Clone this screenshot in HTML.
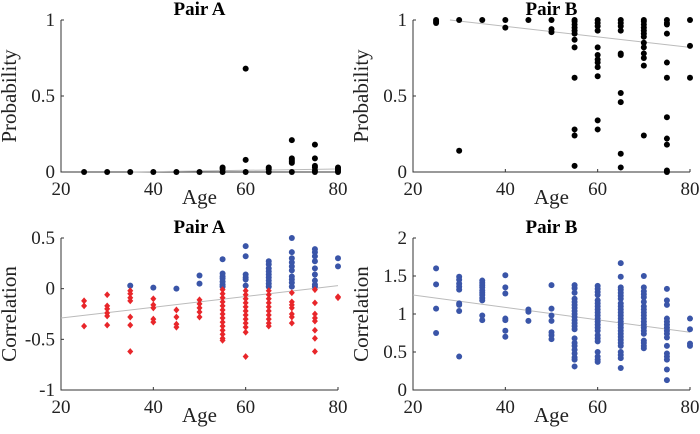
<!DOCTYPE html>
<html><head><meta charset="utf-8"><style>
html,body{margin:0;padding:0;background:#fff;}
svg{display:block;font-family:"Liberation Serif",serif;}
</style></head><body>
<svg id="fig" width="700" height="434" viewBox="0 0 700 434" xmlns="http://www.w3.org/2000/svg"></svg>
<script>
// ---- data ----
const ages = [25,30,35,40,45,50,55,60,65,70,75,80];
const xTicks = [20,40,60,80];

const probA = [[0],[0],[0],[0],[0],[0],[0,0.03,0.02],[0,0.68,0.08],[0,0.02,0.03],[0,0.21,0.09,0.08,0.07,0.06],[0,0.18,0.09,0.04,0.03,0.01],[0,0.03,0.02,0.01]];
const probB = [[1,0.98,0.99],[1,0.14],[1],[1,0.95],[1],[1,0.94,0.92],[1,0.99,0.97,0.95,0.93,0.91,0.87,0.82,0.62,0.28,0.24,0.04],[1,0.98,0.96,0.93,0.82,0.77,0.74,0.72,0.69,0.63,0.34,0.28],[1,0.98,0.96,0.93,0.78,0.77,0.52,0.46,0.12,0.03],[1,0.99,0.97,0.95,0.93,0.91,0.89,0.85,0.82,0.78,0.75,0.7,0.24],[1,0.98,0.97,0.91,0.72,0.62,0.36,0.22,0.18,0.01,0],[1,0.83,0.62]];
const corrAPos = [[],[],[0.03],[0.01],[0],[0.13,0.05],[0.29,0.15,0.12,0.1,0.07,0.04,0.02],[0.42,0.32,0.14,0.11,0.09,0.03],[0.27,0.24,0.2,0.17,0.14,0.11,0.08,0.05,0.02],[0.5,0.36,0.3,0.26,0.22,0.18,0.12,0.09,0.06,0.02],[0.39,0.36,0.32,0.27,0.2,0.14,0.08,0.04,0.02],[0.3,0.22]];
const corrANeg = [[-0.12,-0.17,-0.37],[-0.06,-0.17,-0.2,-0.24,-0.27,-0.36],[-0.02,-0.05,-0.09,-0.12,-0.28,-0.36,-0.62],[-0.1,-0.16,-0.19,-0.3,-0.33],[-0.21,-0.28,-0.35,-0.38],[-0.11,-0.15,-0.19,-0.23,-0.28],[-0.01,-0.05,-0.09,-0.13,-0.17,-0.21,-0.25,-0.29,-0.33,-0.37,-0.41,-0.45,-0.49,-0.51],[-0.02,-0.06,-0.1,-0.14,-0.18,-0.22,-0.26,-0.3,-0.34,-0.38,-0.43,-0.67],[-0.02,-0.06,-0.1,-0.14,-0.18,-0.22,-0.26,-0.3,-0.34,-0.37],[-0.04,-0.13,-0.16,-0.19,-0.25,-0.28,-0.34],[-0.01,-0.14,-0.25,-0.29,-0.32,-0.41,-0.49,-0.62],[-0.08,-0.09]];
const corrB = [[1.6,1.39,1.07,0.75],[1.49,1.45,1.4,1.36,1.32,1.14,1.12,1.04,0.44],[1.44,1.41,1.38,1.35,1.31,1.28,1.25,1.21,1.18,0.98,0.92],[1.51,1.35,1.27,0.94,0.92,0.78,0.7],[1.06,1.03,0.91],[1.38,1.07,0.98,0.91,0.76,0.72,0.67],[1.38,1.34,1.28,1.2,1.16,1.12,1.08,1.04,1,0.96,0.92,0.88,0.84,0.8,0.68,0.62,0.58,0.53,0.48,0.43,0.4,0.31],[1.37,1.33,1.29,1.25,1.18,1.14,1.1,1.06,1.02,0.98,0.94,0.9,0.86,0.82,0.78,0.72,0.68,0.64,0.5,0.44,0.4,0.37],[1.67,1.49,1.35,1.32,1.28,1.24,1.2,1.14,1.1,1.06,1.02,0.98,0.94,0.9,0.86,0.82,0.78,0.74,0.7,0.66,0.62,0.58,0.5,0.46,0.42,0.29],[1.5,1.35,1.3,1.26,1.22,1.16,1.1,1.06,1.02,0.98,0.94,0.9,0.86,0.82,0.78,0.74,0.65,0.62,0.58,0.55],[1.33,1.18,1.12,0.94,0.9,0.86,0.82,0.78,0.74,0.69,0.58,0.48,0.44,0.4,0.27,0.13],[0.94,0.8,0.61,0.58]];

const yTicksProb = [0,0.5,1];
const yTicksProbLbl = ["0","0.5","1"];
const yTicksCorrA = [-1,-0.5,0,0.5];
const yTicksCorrALbl = ["-1","-0.5","0","0.5"];
const yTicksCorrB = [0,0.5,1,1.5,2];
const yTicksCorrBLbl = ["0","0.5","1","1.5","2"];

const trendA1 = [[35,0],[80,0.02]];
const trendB1 = [[28,1.0],[80,0.82]];
const trendA2 = [[20,-0.29],[80,0.03]];
const trendB2 = [[20,1.25],[80,0.76]];

// ---- drawing ----
const NS = "http://www.w3.org/2000/svg";
const svg = document.getElementById('fig');
function mk(tag, attrs, parent){const e=document.createElementNS(NS,tag);for(const k in attrs)e.setAttribute(k,attrs[k]);(parent||svg).appendChild(e);return e;}

function panel(id, box, yMin, yMax, yT, yTL, title, yLabel){
  const g = mk('g',{});
  
  
  const xs = v => box.l + (v-20)/(80-20)*(box.r-box.l);
  const ys = v => box.b - (v-yMin)/(yMax-yMin)*(box.b-box.t);
  const ax = mk('path',{d:`M${box.l},${box.t} V${box.b} H${box.r}`,fill:'none',stroke:'#333','stroke-width':1},g);
  
  
  xTicks.forEach(v=>{
    mk('line',{x1:xs(v),x2:xs(v),y1:box.b,y2:box.b-3,stroke:'#333'},g);
    const t = mk('text',{x:xs(v),y:box.b+23,'text-anchor':'middle','font-size':19,fill:'#222'},g);
    t.textContent=v;
    
    
  });
  yT.forEach((v,i)=>{
    mk('line',{x1:box.l,x2:box.l+3,y1:ys(v),y2:ys(v),stroke:'#333'},g);
    const t = mk('text',{x:box.l-6,y:ys(v)+6,'text-anchor':'end','font-size':19,fill:'#222'},g);
    t.textContent=yTL[i];
    
    
  });
  const tt = mk('text',{x:(box.l+box.r)/2,y:box.t-5,'text-anchor':'middle','font-size':19,'font-weight':'bold',fill:'#000'},g);
  tt.textContent=title;
  
  
  const xl = mk('text',{x:(box.l+box.r)/2,y:box.b+32,'text-anchor':'middle','font-size':21,fill:'#222'},g);
  xl.textContent='Age';
  
  
  const cy=(box.t+box.b)/2, cx=box.l-45;
  const yl = mk('text',{x:cx,y:cy,'text-anchor':'middle','font-size':21,fill:'#222',transform:`rotate(-90 ${cx} ${cy})`},g);
  yl.textContent=yLabel;
  
  
  return {g,xs,ys};
}
function trend(p, pts){
  const l = mk('line',{x1:p.xs(pts[0][0]),y1:p.ys(pts[0][1]),x2:p.xs(pts[1][0]),y2:p.ys(pts[1][1]),stroke:'#bbb','stroke-width':1},p.g);
  
  
}
function dots(p, vals, color, shape){
  ages.forEach((a,i)=>{
    vals[i].forEach(v=>{
      const x=p.xs(a), y=p.ys(v);
      let e;
      if(shape==='diamond') e = mk('path',{d:`M${x},${y-3.4} L${x+3},${y} L${x},${y+3.4} L${x-3},${y} Z`,fill:color},p.g);
      else e = mk('circle',{cx:x,cy:y,r:3,fill:color},p.g);
      
      
    });
  });
}

const p1 = panel('panel-prob-pair-a',{l:61,r:338,t:20,b:172},0,1,yTicksProb,yTicksProbLbl,'Pair A','Probability');
trend(p1,trendA1); dots(p1,probA,'#000','circle');
const p2 = panel('panel-prob-pair-b',{l:413,r:690,t:20,b:172},0,1,yTicksProb,yTicksProbLbl,'Pair B','Probability');
trend(p2,trendB1); dots(p2,probB,'#000','circle');
const p3 = panel('panel-corr-pair-a',{l:61,r:338,t:238,b:390},-1,0.5,yTicksCorrA,yTicksCorrALbl,'Pair A','Correlation');
trend(p3,trendA2); dots(p3,corrAPos,'#3a55a8','circle'); dots(p3,corrANeg,'#e8262a','diamond');
const p4 = panel('panel-corr-pair-b',{l:413,r:690,t:238,b:390},0,2,yTicksCorrB,yTicksCorrBLbl,'Pair B','Correlation');
trend(p4,trendB2); dots(p4,corrB,'#3a55a8','circle');
</script>
</body></html>
